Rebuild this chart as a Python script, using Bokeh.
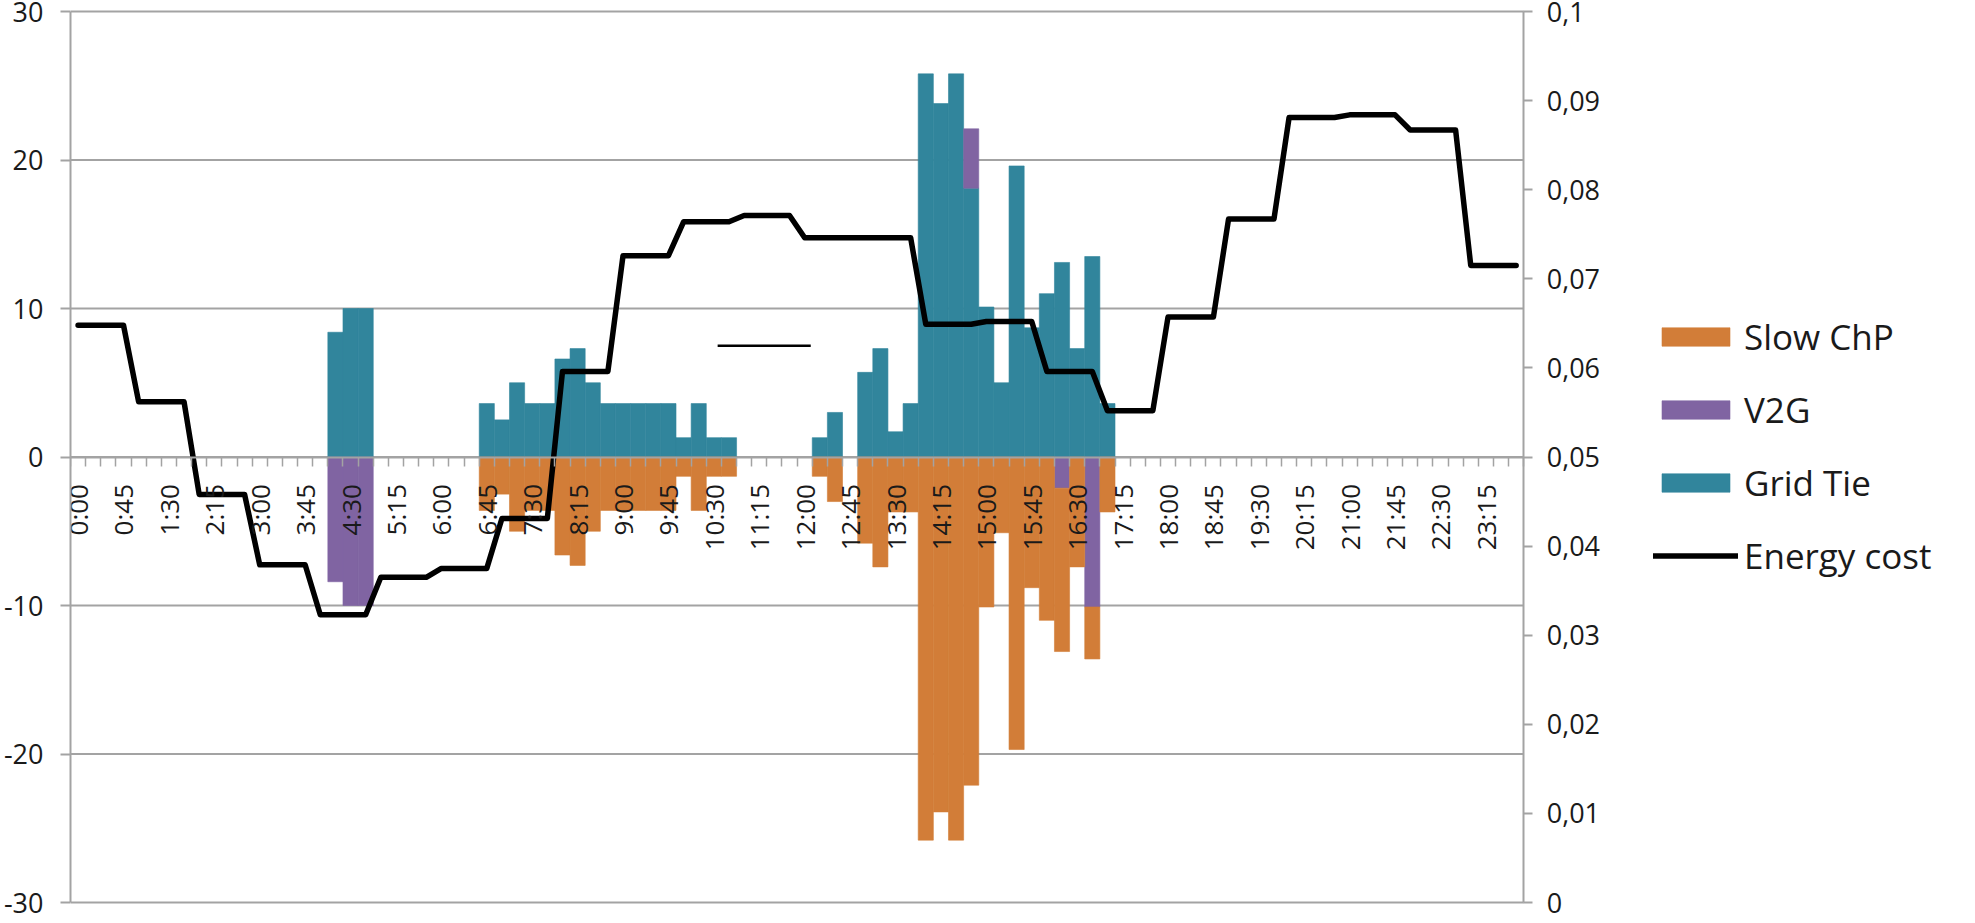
import math
import numpy as np
from bokeh.plotting import figure
from bokeh.models import (Range1d, LinearAxis, FixedTicker, CustomJSTickFormatter,
                          Legend, LegendItem, ColumnDataSource)
from bokeh.embed import file_html
from bokeh.resources import INLINE

# ---------------- data ----------------
# 96 quarter-hour slots of one day
times = [f"{h}:{m:02d}" for h in range(24) for m in (0, 15, 30, 45)]
tick_labels = times[::3]  # every 45 minutes: 0:00, 0:45, 1:30, ...

grid_tie = [
    0, 0, 0, 0, 0, 0, 0, 0, 0, 0, 0, 0, 0, 0, 0, 0,          # 0-15
    0, 8.4, 10, 10, 0, 0, 0, 0,                              # 16-23
    0, 0, 0, 3.6, 2.5, 5.0, 3.6, 3.6,                        # 24-31
    6.6, 7.3, 5.0, 3.6, 3.6, 3.6, 3.6, 3.6,                  # 32-39
    1.3, 3.6, 1.3, 1.3, 0, 0, 0, 0,                          # 40-47
    0, 1.3, 3.0, 0, 5.7, 7.3, 1.7, 3.6,                      # 48-55
    25.8, 23.8, 25.8, 18.1, 10.1, 5.0, 19.6, 8.7,            # 56-63
    11.0, 13.1, 7.3, 13.5, 3.6, 0, 0, 0,                     # 64-71
    0, 0, 0, 0, 0, 0, 0, 0, 0, 0, 0, 0,                      # 72-83
    0, 0, 0, 0, 0, 0, 0, 0, 0, 0, 0, 0,                      # 84-95
]

v2g = [
    0, 0, 0, 0, 0, 0, 0, 0, 0, 0, 0, 0, 0, 0, 0, 0,
    0, -8.4, -10, -10, 0, 0, 0, 0,
    0, 0, 0, 0, 0, 0, 0, 0,
    0, 0, 0, 0, 0, 0, 0, 0,
    0, 0, 0, 0, 0, 0, 0, 0,
    0, 0, 0, 0, 0, 0, 0, 0,
    0, 0, 0, 4.0, 0, 0, 0, 0,
    0, -2.1, 0, -10.1, 0, 0, 0, 0,
    0, 0, 0, 0, 0, 0, 0, 0, 0, 0, 0, 0,
    0, 0, 0, 0, 0, 0, 0, 0, 0, 0, 0, 0,
]

slow_chp = [
    0, 0, 0, 0, 0, 0, 0, 0, 0, 0, 0, 0, 0, 0, 0, 0,
    0, 0, 0, 0, 0, 0, 0, 0,
    0, 0, 0, -3.6, -2.5, -5.0, -3.6, -3.6,
    -6.6, -7.3, -5.0, -3.6, -3.6, -3.6, -3.6, -3.6,
    -1.3, -3.6, -1.3, -1.3, 0, 0, 0, 0,
    0, -1.3, -3.0, 0, -5.8, -7.4, -3.7, -3.7,
    -25.8, -23.9, -25.8, -22.1, -10.1, -5.1, -19.7, -8.8,
    -11.0, -11.0, -7.4, -3.5, -3.7, 0, 0, 0,
    0, 0, 0, 0, 0, 0, 0, 0, 0, 0, 0, 0,
    0, 0, 0, 0, 0, 0, 0, 0, 0, 0, 0, 0,
]

energy_cost = [
    0.0648, 0.0648, 0.0648, 0.0648, 0.0562, 0.0562, 0.0562, 0.0562,
    0.0458, 0.0458, 0.0458, 0.0458, 0.0379, 0.0379, 0.0379, 0.0379,
    0.0323, 0.0323, 0.0323, 0.0323, 0.0365, 0.0365, 0.0365, 0.0365,
    0.0375, 0.0375, 0.0375, 0.0375, 0.0431, 0.0431, 0.0431, 0.0431,
    0.0596, 0.0596, 0.0596, 0.0596, 0.0726, 0.0726, 0.0726, 0.0726,
    0.0764, 0.0764, 0.0764, 0.0764, 0.0771, 0.0771, 0.0771, 0.0771,
    0.0746, 0.0746, 0.0746, 0.0746, 0.0746, 0.0746, 0.0746, 0.0746,
    0.0649, 0.0649, 0.0649, 0.0649, 0.0652, 0.0652, 0.0652, 0.0652,
    0.0596, 0.0596, 0.0596, 0.0596, 0.0552, 0.0552, 0.0552, 0.0552,
    0.0657, 0.0657, 0.0657, 0.0657, 0.0767, 0.0767, 0.0767, 0.0767,
    0.0881, 0.0881, 0.0881, 0.0881, 0.0884, 0.0884, 0.0884, 0.0884,
    0.0867, 0.0867, 0.0867, 0.0867, 0.0715, 0.0715, 0.0715, 0.0715,
]

# stray short horizontal stroke visible in the source picture (slot units, left-axis units)
stroke_x = [42.75, 48.9]
stroke_y = [7.5, 7.5]

left_ticks = [-30, -20, -10, 0, 10, 20, 30]
right_ticks = [0, 0.01, 0.02, 0.03, 0.04, 0.05, 0.06, 0.07, 0.08, 0.09, 0.1]
left_lim = (-30, 30)
right_lim = (0, 0.1)

# ---------------- styling / layout ----------------
C_SLOW = "#D27D38"
C_V2G = "#8064A2"
C_GRID = "#31859C"
GRAY = "#A3A3A3"
TXT = "#1a1a1a"
FONT = "Open Sans"

FIG_W, FIG_H = 1955, 915
BORDER_L = 69
PLOT_W = 1454            # pixel width of the 96 slots; the rest of the frame holds the legend
PLOT_TOP, PLOT_H = 11, 891   # pixel rows of the value area inside the canvas
PAD_BOT = FIG_H - PLOT_TOP - PLOT_H

n = len(times)
x_end = n * (FIG_W - BORDER_L) / PLOT_W

def padded(lim):
    per_px = (lim[1] - lim[0]) / PLOT_H
    return (lim[0] - PAD_BOT * per_px, lim[1] + PLOT_TOP * per_px)

y_lo, y_hi = padded(left_lim)
c_lo, c_hi = padded(right_lim)

# ---------------- stacking ----------------
xc = np.arange(n) + 0.5
gt = np.array(grid_tie, dtype=float)
vv = np.array(v2g, dtype=float)
sc = np.array(slow_chp, dtype=float)
v_neg = np.minimum(vv, 0)

def src(mask, bottom, top):
    return ColumnDataSource(dict(x=xc[mask], bottom=bottom[mask], top=top[mask]))

gt_src = src(gt != 0, np.zeros(n), gt)
v2g_src = src(vv != 0, np.where(vv > 0, gt, 0.0), np.where(vv > 0, gt + vv, vv))
sc_src = src(sc != 0, v_neg, v_neg + sc)

p = figure(width=FIG_W, height=FIG_H,
           x_range=Range1d(0, x_end), y_range=Range1d(y_lo, y_hi),
           output_backend="svg", toolbar_location=None,
           min_border_left=BORDER_L, min_border_right=0,
           min_border_top=0, min_border_bottom=0,
           background_fill_color="white", border_fill_color="white")
p.outline_line_color = None
p.outline_line_alpha = 0
p.extra_y_ranges = {"cost": Range1d(c_lo, c_hi)}

# horizontal gridlines, limited to the category area
p.segment(x0=[0] * len(left_ticks), x1=[n] * len(left_ticks), y0=left_ticks, y1=left_ticks,
          line_color=GRAY, line_width=2, level="underlay")

r_grid = p.vbar(x="x", bottom="bottom", top="top", width=1.0, source=gt_src,
                fill_color=C_GRID, line_color=C_GRID, line_width=0.6)
r_v2g = p.vbar(x="x", bottom="bottom", top="top", width=1.0, source=v2g_src,
               fill_color=C_V2G, line_color=C_V2G, line_width=0.6)
r_slow = p.vbar(x="x", bottom="bottom", top="top", width=1.0, source=sc_src,
                fill_color=C_SLOW, line_color=C_SLOW, line_width=0.6)

r_cost = p.line(xc, energy_cost, y_range_name="cost", line_color="black",
                line_width=5.5, line_join="round", line_cap="round")
p.line(stroke_x, stroke_y, line_color="black", line_width=2.5)

# x axis drawn at y = 0
xa = p.xaxis[0]
xa.fixed_location = 0
xa.bounds = (0, n)
xa.ticker = FixedTicker(ticks=[float(i) + 0.5 for i in range(0, n, 3)],
                        minor_ticks=list(range(0, n + 1)))
xa.formatter = CustomJSTickFormatter(args=dict(labels=tick_labels),
                                     code="const i = Math.round((tick - 0.5) / 3); return labels[i] || '';")
xa.major_label_orientation = math.pi / 2
xa.major_tick_out = 0
xa.major_tick_in = 0
xa.minor_tick_out = 9
xa.minor_tick_in = 0
xa.minor_tick_line_color = GRAY
xa.minor_tick_line_width = 1.5
xa.axis_line_color = GRAY
xa.axis_line_width = 2
xa.major_label_standoff = 18
xa.major_label_text_font = FONT
xa.major_label_text_font_size = "26px"
xa.major_label_text_color = TXT

# left axis
ya = p.yaxis[0]
ya.bounds = left_lim
ya.ticker = FixedTicker(ticks=left_ticks)
ya.formatter = CustomJSTickFormatter(code="return tick.toFixed(0);")
ya.major_tick_out = 10
ya.major_tick_in = 0
ya.minor_tick_out = 0
ya.minor_tick_in = 0
ya.major_tick_line_color = GRAY
ya.major_tick_line_width = 2
ya.axis_line_color = GRAY
ya.axis_line_width = 2
ya.major_label_standoff = 17
ya.major_label_text_font = FONT
ya.major_label_text_font_size = "27px"
ya.major_label_text_color = TXT

# right axis (energy cost), drawn at the right end of the time slots
ra = LinearAxis(y_range_name="cost", ticker=FixedTicker(ticks=right_ticks),
                formatter=CustomJSTickFormatter(
                    code="const v = Math.round(tick * 100) / 100; return v.toString().replace('.', ',');"))
ra.fixed_location = n
ra.bounds = right_lim
ra.major_tick_out = 9
ra.major_tick_in = 0
ra.minor_tick_out = 0
ra.minor_tick_in = 0
ra.major_tick_line_color = GRAY
ra.major_tick_line_width = 2
ra.axis_line_color = GRAY
ra.axis_line_width = 2
ra.major_label_standoff = 14
ra.major_label_text_font = FONT
ra.major_label_text_font_size = "27px"
ra.major_label_text_color = TXT
p.add_layout(ra, "right")

p.xgrid.visible = False
p.ygrid.visible = False

legend = Legend(items=[LegendItem(label="Slow ChP", renderers=[r_slow]),
                       LegendItem(label="V2G", renderers=[r_v2g]),
                       LegendItem(label="Grid Tie", renderers=[r_grid]),
                       LegendItem(label="Energy cost", renderers=[r_cost])],
                location=(1583, PAD_BOT + 323), orientation="vertical",
                glyph_width=85, glyph_height=23, label_height=23,
                label_standoff=6, spacing=26, padding=0, margin=0,
                label_text_font=FONT, label_text_font_size="35px",
                label_text_color=TXT,
                border_line_color=None, background_fill_alpha=0)
p.add_layout(legend, "center")

open("out.html", "w").write(file_html(p, INLINE))
